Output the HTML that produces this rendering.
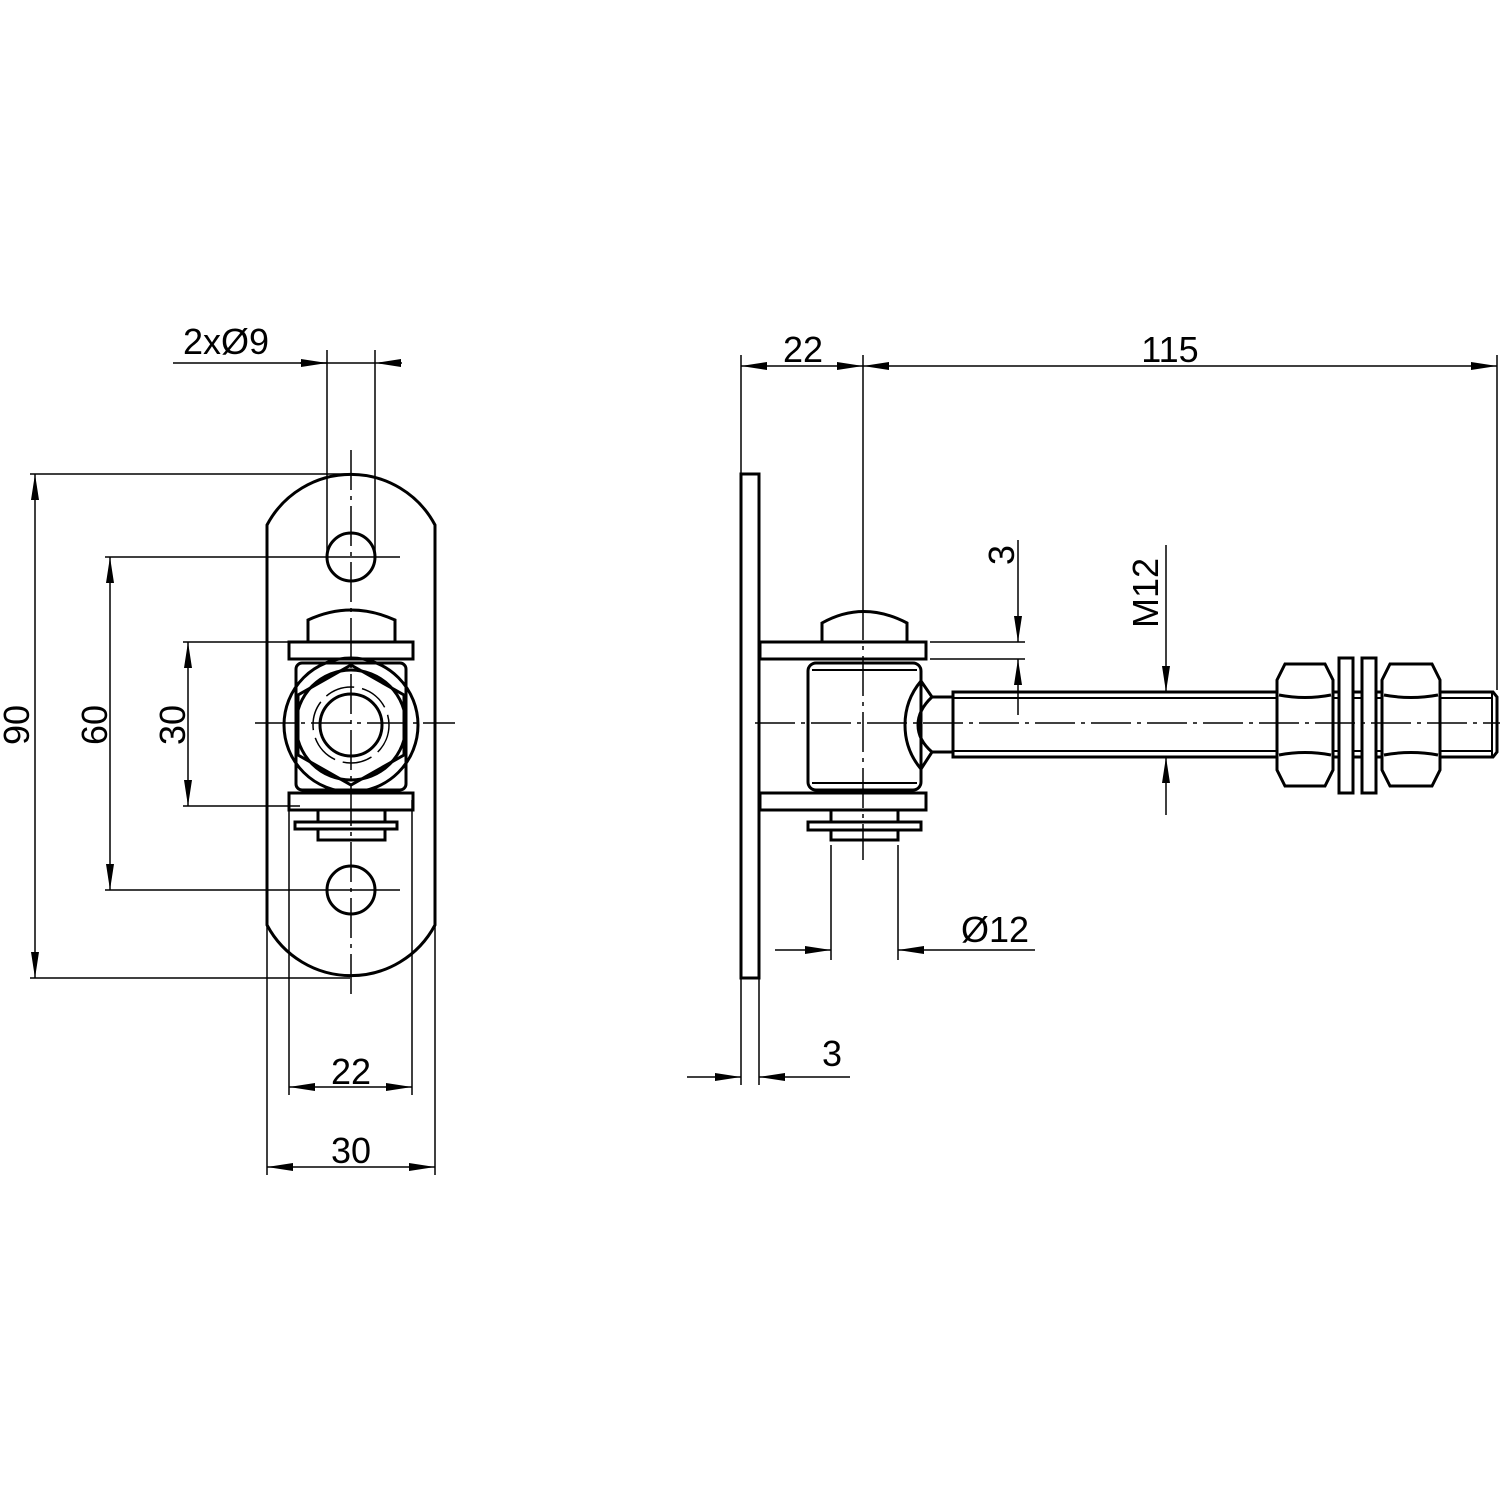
<!DOCTYPE html>
<html><head><style>html,body{margin:0;padding:0;background:#fff}svg{display:block}</style></head><body>
<svg width="1500" height="1500" viewBox="0 0 1500 1500" xmlns="http://www.w3.org/2000/svg" font-family="Liberation Sans, sans-serif">
<defs>
<marker id="a" viewBox="0 0 26 8" refX="26" refY="4" markerWidth="26" markerHeight="8" markerUnits="userSpaceOnUse" orient="auto-start-reverse"><path d="M0,0L26,4L0,8z" fill="#000"/></marker>
</defs>
<g stroke="#000" fill="none">
<!-- LEFT VIEW -->
<g stroke-width="1.5">
<line x1="30" y1="474" x2="350" y2="474"/>
<line x1="30" y1="978" x2="350" y2="978"/>
<line x1="105" y1="557" x2="400" y2="557"/>
<line x1="105" y1="890" x2="400" y2="890"/>
<line x1="183" y1="642" x2="300" y2="642"/>
<line x1="183" y1="806" x2="300" y2="806"/>
<line x1="327" y1="350" x2="327" y2="557"/>
<line x1="375" y1="350" x2="375" y2="557"/>
<line x1="173" y1="363" x2="375" y2="363"/>
<line x1="289" y1="800" x2="289" y2="1095"/>
<line x1="412" y1="800" x2="412" y2="1095"/>
<line x1="267" y1="925" x2="267" y2="1175"/>
<line x1="435" y1="925" x2="435" y2="1175"/>
</g>
<g stroke-width="1.5">
<line x1="35" y1="474" x2="35" y2="978" marker-start="url(#a)" marker-end="url(#a)"/>
<line x1="110" y1="557" x2="110" y2="890" marker-start="url(#a)" marker-end="url(#a)"/>
<line x1="188" y1="642" x2="188" y2="806" marker-start="url(#a)" marker-end="url(#a)"/>
<line x1="289" y1="1087" x2="412" y2="1087" marker-start="url(#a)" marker-end="url(#a)"/>
<line x1="267" y1="1167" x2="435" y2="1167" marker-start="url(#a)" marker-end="url(#a)"/>
<line x1="300" y1="363" x2="327" y2="363" marker-end="url(#a)"/>
<line x1="402" y1="363" x2="375" y2="363" marker-end="url(#a)"/>
</g>
<g stroke-width="3">
<path d="M267,525 A95,95 0 0 1 435,525 L435,925 A95,95 0 0 1 267,925 Z"/>
<circle cx="351" cy="557" r="24"/>
<circle cx="351" cy="890" r="24"/>
<path d="M308,642 L308,620 Q351,600 395,620 L395,642"/>
<rect x="289" y="642" width="124" height="17"/>
<rect x="296" y="663" width="110" height="127" rx="6"/>
<circle cx="351" cy="725" r="67"/>
<polygon points="351,665 404,695 404,755 351,785 298,755 298,695"/>
<circle cx="351" cy="725" r="55"/>
<circle cx="351" cy="725" r="31"/>
<circle cx="351" cy="725" r="38" stroke-width="1.5" stroke-dasharray="30 8"/>
<rect x="289" y="793" width="124" height="17"/>
<rect x="318" y="810" width="67" height="12"/>
<rect x="295" y="822" width="102" height="7"/>
<rect x="318" y="829" width="67" height="11"/>
</g>
<g stroke-width="1.5" stroke-dasharray="40 6 4 6">
<line x1="351" y1="450" x2="351" y2="995"/>
<line x1="255" y1="723" x2="455" y2="723"/>
</g>
<!-- RIGHT VIEW -->
<g stroke-width="1.5">
<line x1="741" y1="355" x2="741" y2="1085"/>
<line x1="759" y1="978" x2="759" y2="1085"/>
<line x1="863" y1="355" x2="863" y2="600"/>
<line x1="1497" y1="355" x2="1497" y2="690"/>
<line x1="741" y1="366" x2="863" y2="366" marker-start="url(#a)" marker-end="url(#a)"/>
<line x1="863" y1="366" x2="1497" y2="366" marker-start="url(#a)" marker-end="url(#a)"/>
<line x1="687" y1="1077" x2="741" y2="1077" marker-end="url(#a)"/>
<line x1="850" y1="1077" x2="759" y2="1077" marker-end="url(#a)"/>
<line x1="831" y1="845" x2="831" y2="960"/>
<line x1="898" y1="845" x2="898" y2="960"/>
<line x1="775" y1="950" x2="831" y2="950" marker-end="url(#a)"/>
<line x1="1035" y1="950" x2="898" y2="950" marker-end="url(#a)"/>
<line x1="930" y1="642" x2="1025" y2="642"/>
<line x1="930" y1="659" x2="1025" y2="659"/>
<line x1="1018" y1="540" x2="1018" y2="642" marker-end="url(#a)"/>
<line x1="1018" y1="715" x2="1018" y2="659" marker-end="url(#a)"/>
<line x1="1166" y1="545" x2="1166" y2="692" marker-end="url(#a)"/>
<line x1="1166" y1="815" x2="1166" y2="757" marker-end="url(#a)"/>
</g>
<g stroke-width="3">
<rect x="741" y="474" width="18" height="504"/>
<path d="M822,642 L822,623 Q863,600 907,623 L907,642"/>
<rect x="760" y="642" width="166" height="17"/>
<rect x="808" y="663" width="113" height="127" rx="8"/>
<line x1="812" y1="670" x2="917" y2="670" stroke-width="2"/>
<line x1="812" y1="783" x2="917" y2="783" stroke-width="2"/>
<rect x="760" y="793" width="166" height="17"/>
<rect x="831" y="810" width="67" height="12"/>
<rect x="808" y="822" width="113" height="8"/>
<rect x="831" y="830" width="67" height="10"/>
<path d="M921,681 Q905,700 905,725 Q905,750 921,769"/>
<path d="M921,681 L932,697 L953,697 M921,769 L932,752 L953,752"/>
<path d="M932,697 Q918,710 918,725 Q918,740 932,752"/>
<path d="M953,692 L1493,692 L1497,697 L1497,752 L1493,757 L953,757 Z"/>
<line x1="953" y1="698" x2="1493" y2="698" stroke-width="2"/>
<line x1="953" y1="751" x2="1493" y2="751" stroke-width="2"/>
<line x1="1492" y1="692" x2="1492" y2="757" stroke-width="2"/>
<path d="M1277,680 L1285,664 L1325,664 L1333,680 L1333,770 L1325,786 L1285,786 L1277,770 Z" fill="#fff"/>
<path d="M1279,695 Q1305,700 1331,695 M1279,755 Q1305,750 1331,755"/>
<path d="M1382,680 L1390,664 L1432,664 L1440,680 L1440,770 L1432,786 L1390,786 L1382,770 Z" fill="#fff"/>
<path d="M1384,695 Q1411,700 1438,695 M1384,755 Q1411,750 1438,755"/>
<rect x="1339" y="658" width="14" height="135" fill="#fff"/>
<rect x="1362" y="658" width="14" height="135" fill="#fff"/>
</g>
<g stroke-width="1.5" stroke-dasharray="40 6 4 6">
<line x1="755" y1="723" x2="1500" y2="723"/>
<line x1="863" y1="600" x2="863" y2="860"/>
</g>
</g>
<g font-size="36" fill="#000" text-anchor="middle">
<text x="226" y="354">2xØ9</text>
<text x="351" y="1084">22</text>
<text x="351" y="1163">30</text>
<text transform="translate(29,725) rotate(-90)">90</text>
<text transform="translate(107,725) rotate(-90)">60</text>
<text transform="translate(185,725) rotate(-90)">30</text>
<text x="803" y="362">22</text>
<text x="1170" y="362">115</text>
<text x="832" y="1066">3</text>
<text x="995" y="942">Ø12</text>
<text transform="translate(1014,555) rotate(-90)">3</text>
<text transform="translate(1158,593) rotate(-90)">M12</text>
</g>
</svg>
</body></html>
